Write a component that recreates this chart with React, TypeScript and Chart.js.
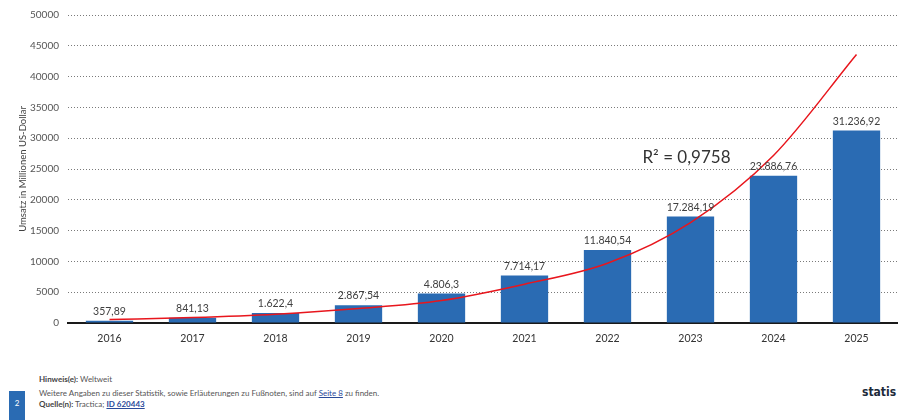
import React, { useEffect, useRef } from "react";
import { Chart, registerables } from "chart.js";

Chart.register(...registerables);

const years = ["2016", "2017", "2018", "2019", "2020", "2021", "2022", "2023", "2024", "2025"];
const revenue = [357.89, 841.13, 1622.4, 2867.54, 4806.3, 7714.17, 11840.54, 17284.19, 23886.76, 31236.92];
const revenueLabels = ["357,89", "841,13", "1.622,4", "2.867,54", "4.806,3", "7.714,17", "11.840,54", "17.284,19", "23.886,76", "31.236,92"];
const trend = [550, 890, 1440, 2350, 3650, 6300, 9700, 16300, 27200, 43600];
const yMax = 50000;
const yStep = 5000;
const yTitle = "Umsatz in Millionen US-Dollar";
const r2Text = "R² = 0,9758";
const r2Anchor = { index: 7, value: 26900 };

const FONT = "Lato, 'Open Sans', sans-serif";

const labelPlugin = {
  id: "barLabels",
  afterDatasetsDraw(chart: any) {
    const ctx = chart.ctx;
    const meta = chart.getDatasetMeta(1);
    ctx.save();
    ctx.font = `10.5px ${FONT}`;
    ctx.fillStyle = "#404040";
    ctx.textAlign = "center";
    ctx.textBaseline = "bottom";
    meta.data.forEach((bar: any, i: number) => {
      ctx.fillText(revenueLabels[i], bar.x, bar.y - 4);
    });
    const xs = chart.scales.x;
    const ys = chart.scales.y;
    ctx.font = `17px ${FONT}`;
    ctx.fillStyle = "#333333";
    ctx.textBaseline = "middle";
    ctx.fillText(r2Text, xs.getPixelForValue(r2Anchor.index) - 4, ys.getPixelForValue(r2Anchor.value));
    ctx.restore();
  },
};

function ChartCanvas() {
  const ref = useRef<HTMLCanvasElement | null>(null);
  useEffect(() => {
    if (!ref.current) return;
    const chart = new Chart(ref.current, {
      type: "bar",
      data: {
        labels: years,
        datasets: [
          {
            type: "line",
            data: trend,
            borderColor: "#e8161d",
            borderWidth: 1.5,
            pointRadius: 0,
            cubicInterpolationMode: "monotone",
            fill: false,
            order: 0,
          } as any,
          {
            type: "bar",
            data: revenue,
            backgroundColor: "#2a6bb3",
            barPercentage: 0.57,
            categoryPercentage: 1,
            order: 1,
          } as any,
        ],
      },
      options: {
        animation: false,
        responsive: false,
        maintainAspectRatio: false,
        layout: { padding: { top: 14, right: 0, bottom: 6, left: 0 } },
        plugins: { legend: { display: false }, tooltip: { enabled: false } },
        scales: {
          x: {
            grid: { display: false, drawTicks: false },
            border: { display: true, color: "#1a1a1a", width: 2 },
            ticks: { color: "#333333", font: { family: FONT, size: 10.5 }, padding: 9 },
            afterFit: (s: any) => { s.height = 31; },
          },
          y: {
            min: 0,
            max: yMax,
            ticks: {
              stepSize: yStep,
              color: "#555555",
              font: { family: FONT, size: 10 },
              padding: 9,
              callback: (v: any) => String(v),
            },
            grid: {
              drawTicks: false,
              color: (c: any) => (c.tick && c.tick.value === 0 ? "rgba(0,0,0,0)" : "#7a7a7a"),
              lineWidth: 1,
            } as any,
            border: { display: false, dash: [1, 2] },
            title: {
              display: true,
              text: yTitle,
              color: "#404040",
              font: { family: FONT, size: 9.5 },
              padding: { top: 17, bottom: 0 },
            },
            afterFit: (s: any) => { s.width = 68; },
          },
        },
      },
      plugins: [labelPlugin],
    } as any);
    return () => chart.destroy();
  }, []);
  return <canvas ref={ref} width={898} height={360} style={{ position: "absolute", left: 0, top: 0, width: 898, height: 360 }} />;
}

export default function App() {
  const small = { fontFamily: "Lato, 'Open Sans', sans-serif", fontSize: 8, color: "#555", position: "absolute" as const, whiteSpace: "nowrap" as const, lineHeight: "10px" };
  return (
    <div style={{ position: "fixed", left: 0, top: 0, width: 898, height: 420, background: "#fff", overflow: "hidden" }}>
      <ChartCanvas />
      <div style={{ ...small, left: 39, top: 374 }}>
        <b style={{ color: "#444" }}>Hinweis(e):</b> Weltweit
      </div>
      <div style={{ ...small, left: 39, top: 388 }}>
        Weitere Angaben zu dieser Statistik, sowie Erläuterungen zu Fußnoten, sind auf{" "}
        <span style={{ color: "#2a4a9a", textDecoration: "underline" }}>Seite 8</span> zu finden.
      </div>
      <div style={{ ...small, left: 39, top: 399 }}>
        <b style={{ color: "#444" }}>Quelle(n):</b> Tractica;{" "}
        <span style={{ color: "#2a4a9a", textDecoration: "underline", fontWeight: 700 }}>ID 620443</span>
      </div>
      <div style={{ position: "absolute", left: 9, top: 391, width: 16, height: 29, background: "#2a6bb3", color: "#fff", fontFamily: "Lato, sans-serif", fontSize: 8, textAlign: "center", lineHeight: "24px" }}>2</div>
      <div style={{ position: "absolute", left: 862, top: 385, fontFamily: "'Liberation Sans Narrow', 'DejaVu Sans Condensed', sans-serif", fontStretch: "condensed", fontWeight: 700, fontSize: 12, color: "#1d2a3a", lineHeight: "14px" }}>statis</div>
    </div>
  );
}
